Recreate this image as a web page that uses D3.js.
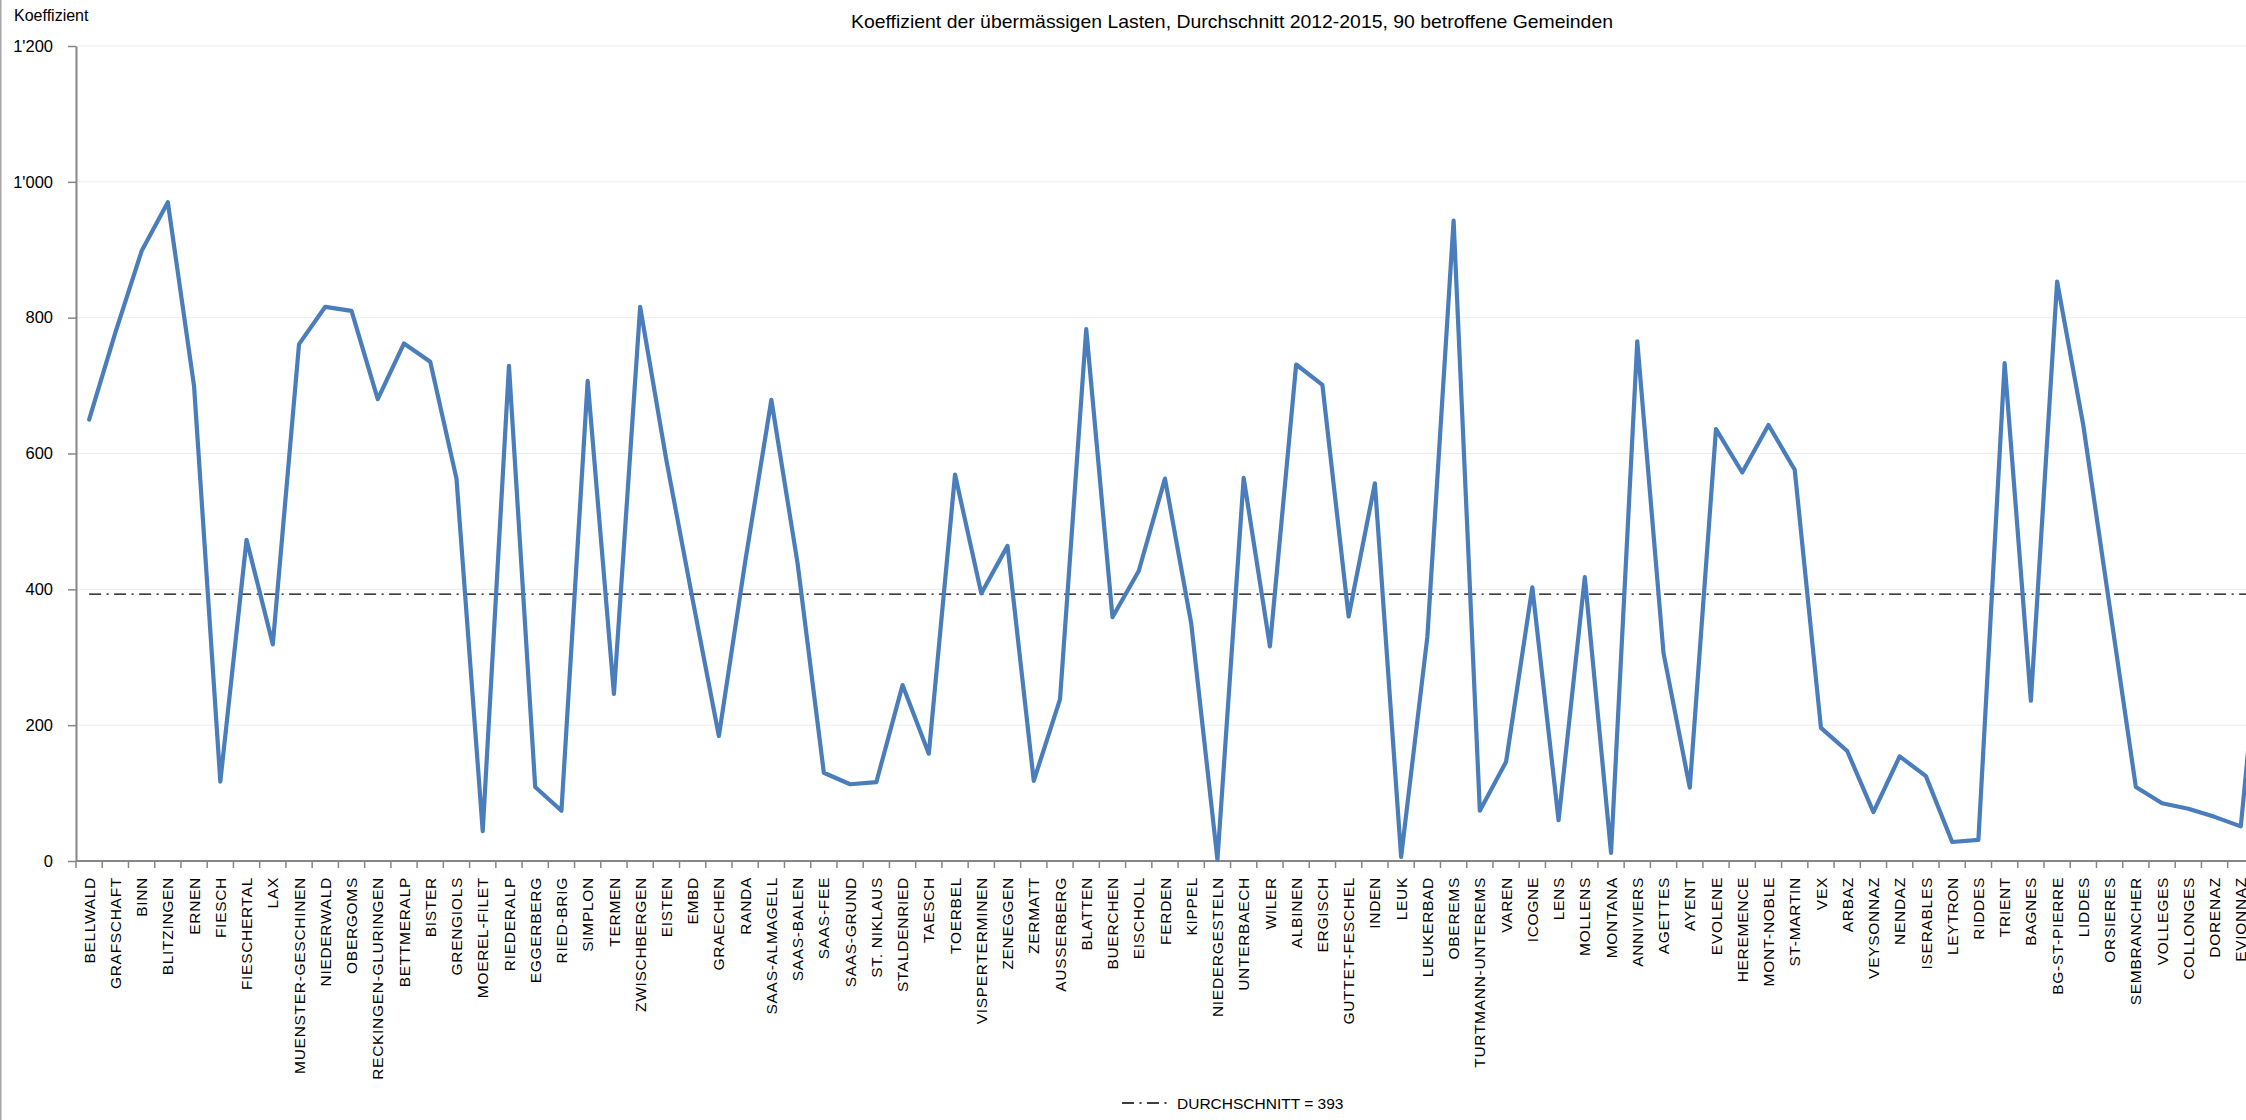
<!DOCTYPE html>
<html>
<head>
<meta charset="utf-8">
<script src="https://cdn.jsdelivr.net/npm/d3@7"></script>
<style>
  html, body { margin: 0; padding: 0; background: #fff; overflow: hidden; }
  svg { display: block; font-family: "Liberation Sans", Arial, sans-serif; }
</style>
</head>
<body>
<div id="chart"></div>
<script>
// Gemeinden in Reihenfolge der Kategorienachse
const categories = [
  "BELLWALD", "GRAFSCHAFT", "BINN", "BLITZINGEN", "ERNEN", "FIESCH", "FIESCHERTAL", "LAX",
  "MUENSTER-GESCHINEN", "NIEDERWALD", "OBERGOMS", "RECKINGEN-GLURINGEN", "BETTMERALP", "BISTER",
  "GRENGIOLS", "MOEREL-FILET", "RIEDERALP", "EGGERBERG", "RIED-BRIG", "SIMPLON", "TERMEN",
  "ZWISCHBERGEN", "EISTEN", "EMBD", "GRAECHEN", "RANDA", "SAAS-ALMAGELL", "SAAS-BALEN", "SAAS-FEE",
  "SAAS-GRUND", "ST. NIKLAUS", "STALDENRIED", "TAESCH", "TOERBEL", "VISPERTERMINEN", "ZENEGGEN",
  "ZERMATT", "AUSSERBERG", "BLATTEN", "BUERCHEN", "EISCHOLL", "FERDEN", "KIPPEL", "NIEDERGESTELN",
  "UNTERBAECH", "WILER", "ALBINEN", "ERGISCH", "GUTTET-FESCHEL", "INDEN", "LEUK", "LEUKERBAD",
  "OBEREMS", "TURTMANN-UNTEREMS", "VAREN", "ICOGNE", "LENS", "MOLLENS", "MONTANA", "ANNIVIERS",
  "AGETTES", "AYENT", "EVOLENE", "HEREMENCE", "MONT-NOBLE", "ST-MARTIN", "VEX", "ARBAZ",
  "VEYSONNAZ", "NENDAZ", "ISERABLES", "LEYTRON", "RIDDES", "TRIENT", "BAGNES", "BG-ST-PIERRE",
  "LIDDES", "ORSIERES", "SEMBRANCHER", "VOLLEGES", "COLLONGES", "DORENAZ", "EVIONNAZ", "FINHAUT"
];

// Koeffizient der übermässigen Lasten je Gemeinde
const values = [
  650, 778, 898, 970, 699, 117, 473, 319, 761, 816, 810, 680, 762, 735, 563, 44, 729, 109, 74, 707,
  246, 816, 590, 385, 184, 440, 679, 438, 130, 113, 116, 259, 158, 569, 394, 464, 118, 238, 783, 359,
  427, 563, 350, 2, 564, 316, 731, 701, 360, 556, 6, 330, 943, 74, 146, 403, 60, 418, 12, 765,
  306, 108, 636, 572, 642, 576, 196, 162, 72, 154, 125, 28, 31, 733, 236, 853, 641, 375, 109, 85,
  77, 65, 51, 450
];

const average = 393;
const yTicks = [0, 200, 400, 600, 800, 1000, 1200];

const chartTitle = "Koeffizient der übermässigen Lasten, Durchschnitt 2012-2015, 90 betroffene Gemeinden";
const yTitle = "Koeffizient";
const legendLabel = "DURCHSCHNITT = " + average;

// ---- Layout ----
const W = 2480, H = 1120;
const plot = { left: 76, top: 46, bottom: 861 };
const step = 26.24;
const lineColor = "#4a7dbb";
const axisColor = "#868686";
const dashPattern = "12,5.5,2,5.5";

const swiss = d3.formatLocale({ decimal: ".", thousands: "'", grouping: [3], currency: ["", ""] });
const fmt = swiss.format(",");

const svg = d3.select("#chart").append("svg")
  .attr("width", W).attr("height", H);

const x = d3.scaleBand()
  .domain(categories)
  .range([plot.left, plot.left + categories.length * step]);

const y = d3.scaleLinear()
  .domain([0, 1200])
  .range([plot.bottom, plot.top]);

const cx = d => x(d) + x.bandwidth() / 2;

// Rahmen links
svg.append("line")
  .attr("x1", 0.75).attr("x2", 0.75).attr("y1", 0).attr("y2", H)
  .attr("stroke", "#a6a6a6").attr("stroke-width", 1.5);

// Hilfslinien
svg.append("g")
  .selectAll("line")
  .data(yTicks.filter(d => d > 0))
  .join("line")
  .attr("x1", plot.left).attr("x2", W)
  .attr("y1", d => y(d)).attr("y2", d => y(d))
  .attr("stroke", "#ececec").attr("stroke-width", 1);

// Y-Achse
const yAxis = svg.append("g")
  .attr("transform", `translate(${plot.left},0)`)
  .call(d3.axisLeft(y).tickValues(yTicks).tickFormat(fmt).tickSize(8).tickSizeOuter(0).tickPadding(15));
yAxis.select(".domain").attr("stroke", axisColor).attr("stroke-width", 2);
yAxis.selectAll(".tick line").attr("stroke", axisColor).attr("stroke-width", 1.5);
yAxis.selectAll(".tick text")
  .attr("fill", "#000")
  .style("font-size", "16.5px")
  .style("font-family", "'Liberation Sans', Arial, sans-serif");

// X-Achse
svg.append("line")
  .attr("x1", plot.left).attr("x2", W)
  .attr("y1", plot.bottom).attr("y2", plot.bottom)
  .attr("stroke", axisColor).attr("stroke-width", 2);

svg.append("g")
  .selectAll("line")
  .data(d3.range(categories.length + 1))
  .join("line")
  .attr("x1", i => plot.left + i * x.step())
  .attr("x2", i => plot.left + i * x.step())
  .attr("y1", plot.bottom).attr("y2", plot.bottom + 7)
  .attr("stroke", axisColor).attr("stroke-width", 1.5);

const xAxis = svg.append("g")
  .attr("transform", `translate(0,${plot.bottom})`)
  .call(d3.axisBottom(x).tickSize(0).tickSizeOuter(0));
xAxis.select(".domain").remove();
xAxis.selectAll(".tick text")
  .attr("x", -16)
  .attr("y", 0)
  .attr("dy", "0.36em")
  .attr("transform", "rotate(-90)")
  .attr("fill", "#000")
  .style("text-anchor", "end")
  .style("font-size", "15.5px")
  .style("letter-spacing", "0.7px")
  .style("font-family", "'Liberation Sans', Arial, sans-serif");

// Durchschnittslinie
svg.append("line")
  .attr("x1", cx(categories[0])).attr("x2", W)
  .attr("y1", y(average)).attr("y2", y(average))
  .attr("stroke", "#000").attr("stroke-width", 1.4)
  .attr("stroke-dasharray", dashPattern);

// Datenlinie
const line = d3.line()
  .x((d, i) => cx(categories[i]))
  .y(d => y(d));

svg.append("path")
  .datum(values)
  .attr("d", line)
  .attr("fill", "none")
  .attr("stroke", lineColor)
  .attr("stroke-width", 4.2)
  .attr("stroke-linejoin", "round")
  .attr("stroke-linecap", "round");

// Titel
svg.append("text")
  .attr("x", 1232).attr("y", 28)
  .attr("text-anchor", "middle")
  .attr("textLength", 762)
  .attr("lengthAdjust", "spacingAndGlyphs")
  .style("font-size", "19px")
  .attr("fill", "#000")
  .text(chartTitle);

// Achsentitel
svg.append("text")
  .attr("x", 14).attr("y", 20.5)
  .style("font-size", "16px")
  .attr("fill", "#000")
  .text(yTitle);

// Legende
const legend = svg.append("g").attr("transform", "translate(1122,1103)");
legend.append("line")
  .attr("x1", 0).attr("x2", 48)
  .attr("stroke", "#000").attr("stroke-width", 1.4)
  .attr("stroke-dasharray", dashPattern);
legend.append("text")
  .attr("x", 55).attr("dy", "0.36em")
  .style("font-size", "15.5px")
  .attr("fill", "#000")
  .text(legendLabel);
</script>
</body>
</html>
